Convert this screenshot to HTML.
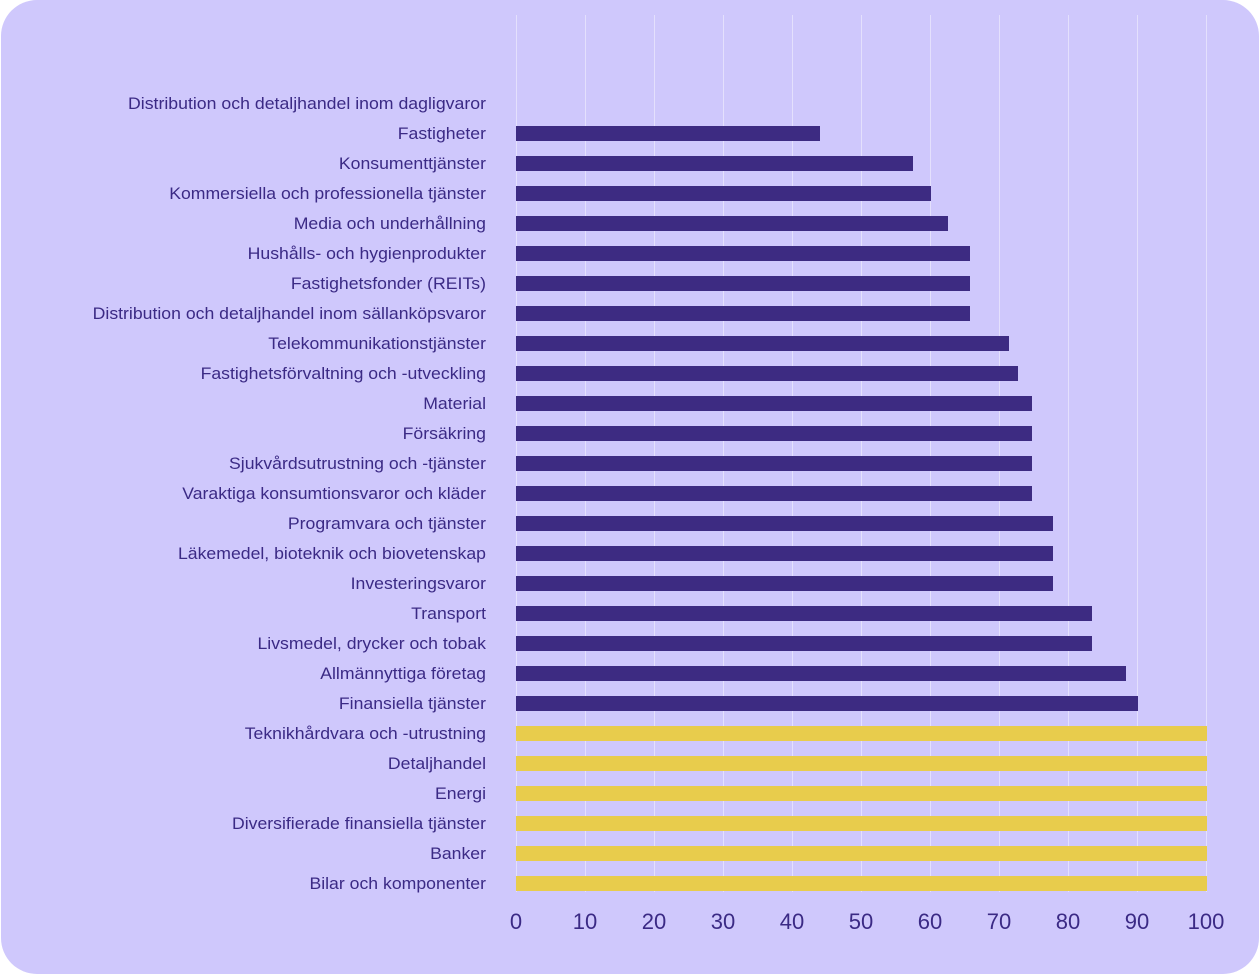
<!DOCTYPE html>
<html><head><meta charset="utf-8"><style>
html,body{margin:0;padding:0;background:#fff;}
svg{display:block;}
text{font-family:"Liberation Sans",sans-serif;fill:#3b2a85;}
</style></head><body>
<svg width="1260" height="975" viewBox="0 0 1260 975">
<rect x="1" y="0" width="1258" height="974" rx="36" fill="#cfc8fc"/>
<g stroke="#e4e0fd" stroke-width="1">
<line x1="516.5" y1="15" x2="516.5" y2="892"/>
<line x1="585.5" y1="15" x2="585.5" y2="892"/>
<line x1="654.5" y1="15" x2="654.5" y2="892"/>
<line x1="723.5" y1="15" x2="723.5" y2="892"/>
<line x1="792.5" y1="15" x2="792.5" y2="892"/>
<line x1="861.5" y1="15" x2="861.5" y2="892"/>
<line x1="930.5" y1="15" x2="930.5" y2="892"/>
<line x1="999.5" y1="15" x2="999.5" y2="892"/>
<line x1="1068.5" y1="15" x2="1068.5" y2="892"/>
<line x1="1137.5" y1="15" x2="1137.5" y2="892"/>
<line x1="1206.5" y1="15" x2="1206.5" y2="892"/>
</g>
<g fill="#3d2b82">
<rect x="516" y="126" width="304" height="15"/>
<rect x="516" y="156" width="397" height="15"/>
<rect x="516" y="186" width="415" height="15"/>
<rect x="516" y="216" width="432" height="15"/>
<rect x="516" y="246" width="454" height="15"/>
<rect x="516" y="276" width="454" height="15"/>
<rect x="516" y="306" width="454" height="15"/>
<rect x="516" y="336" width="493" height="15"/>
<rect x="516" y="366" width="502" height="15"/>
<rect x="516" y="396" width="516" height="15"/>
<rect x="516" y="426" width="516" height="15"/>
<rect x="516" y="456" width="516" height="15"/>
<rect x="516" y="486" width="516" height="15"/>
<rect x="516" y="516" width="537" height="15"/>
<rect x="516" y="546" width="537" height="15"/>
<rect x="516" y="576" width="537" height="15"/>
<rect x="516" y="606" width="576" height="15"/>
<rect x="516" y="636" width="576" height="15"/>
<rect x="516" y="666" width="610" height="15"/>
<rect x="516" y="696" width="622" height="15"/>
</g>
<g fill="#e8cc4c">
<rect x="516" y="726" width="691" height="15"/>
<rect x="516" y="756" width="691" height="15"/>
<rect x="516" y="786" width="691" height="15"/>
<rect x="516" y="816" width="691" height="15"/>
<rect x="516" y="846" width="691" height="15"/>
<rect x="516" y="876" width="691" height="15"/>
</g>
<g font-size="16.5" text-anchor="end" transform="translate(486 0) scale(1.07 1) translate(-486 0)">
<text x="486" y="109" textLength="358" lengthAdjust="spacingAndGlyphs" transform="translate(486 0) scale(0.9346 1) translate(-486 0)">Distribution och detaljhandel inom dagligvaror</text>
<text x="486" y="139">Fastigheter</text>
<text x="486" y="169">Konsumenttjänster</text>
<text x="486" y="199">Kommersiella och professionella tjänster</text>
<text x="486" y="229">Media och underhållning</text>
<text x="486" y="259">Hushålls- och hygienprodukter</text>
<text x="486" y="289">Fastighetsfonder (REITs)</text>
<text x="486" y="319">Distribution och detaljhandel inom sällanköpsvaror</text>
<text x="486" y="349">Telekommunikationstjänster</text>
<text x="486" y="379">Fastighetsförvaltning och -utveckling</text>
<text x="486" y="409">Material</text>
<text x="486" y="439">Försäkring</text>
<text x="486" y="469">Sjukvårdsutrustning och -tjänster</text>
<text x="486" y="499">Varaktiga konsumtionsvaror och kläder</text>
<text x="486" y="529">Programvara och tjänster</text>
<text x="486" y="559">Läkemedel, bioteknik och biovetenskap</text>
<text x="486" y="589">Investeringsvaror</text>
<text x="486" y="619">Transport</text>
<text x="486" y="649">Livsmedel, drycker och tobak</text>
<text x="486" y="679">Allmännyttiga företag</text>
<text x="486" y="709">Finansiella tjänster</text>
<text x="486" y="739">Teknikhårdvara och -utrustning</text>
<text x="486" y="769">Detaljhandel</text>
<text x="486" y="799">Energi</text>
<text x="486" y="829">Diversifierade finansiella tjänster</text>
<text x="486" y="859">Banker</text>
<text x="486" y="889">Bilar och komponenter</text>
</g>
<g font-size="22" text-anchor="middle">
<text x="516" y="929">0</text>
<text x="585" y="929">10</text>
<text x="654" y="929">20</text>
<text x="723" y="929">30</text>
<text x="792" y="929">40</text>
<text x="861" y="929">50</text>
<text x="930" y="929">60</text>
<text x="999" y="929">70</text>
<text x="1068" y="929">80</text>
<text x="1137" y="929">90</text>
<text x="1206" y="929">100</text>
</g>
</svg>
</body></html>
